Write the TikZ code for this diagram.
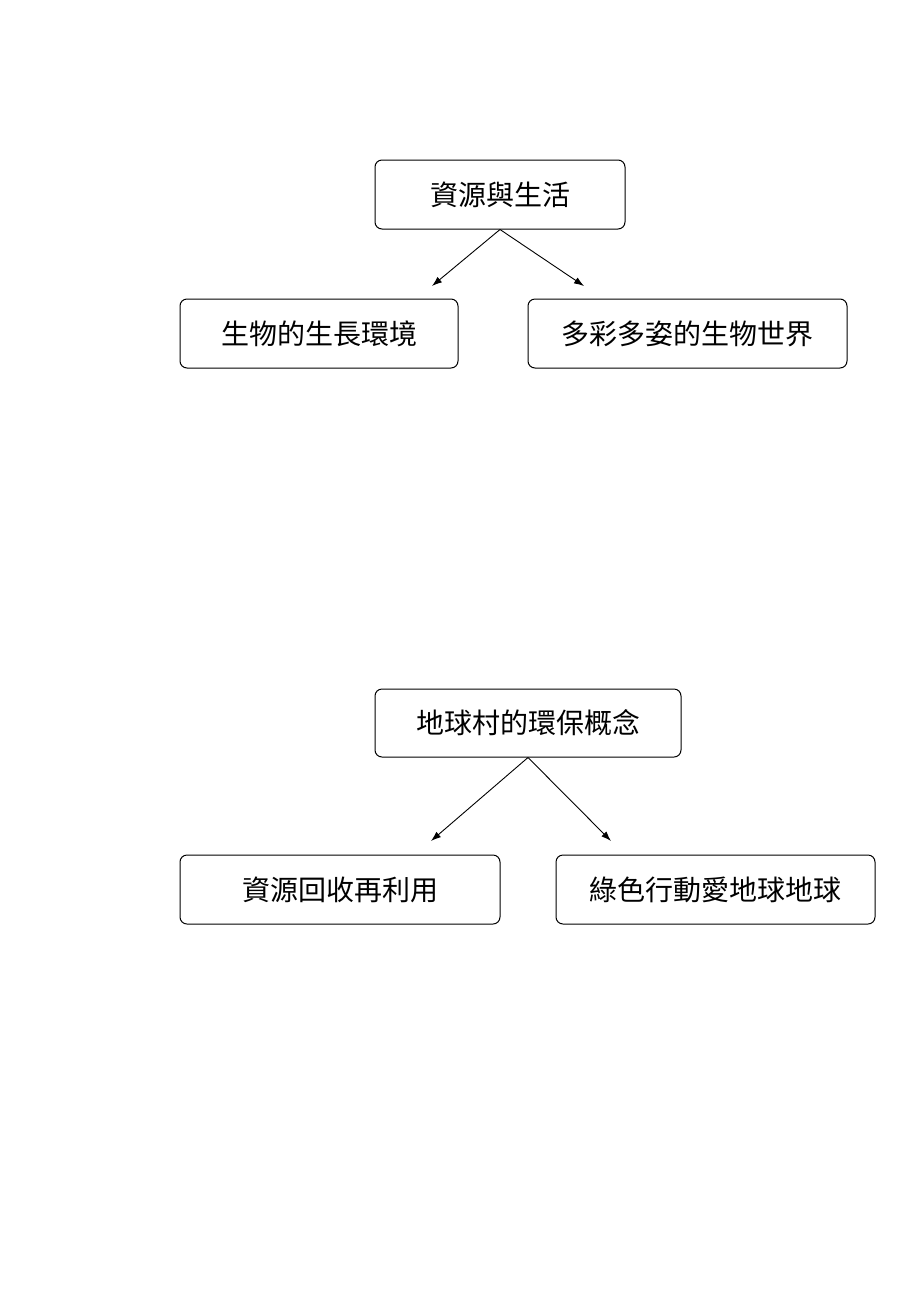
\documentclass[tikz,border=0pt]{standalone}
\usepackage{fontspec}
\newfontfamily\cjk{Noto Sans CJK TC}
\usetikzlibrary{arrows.meta}
\begin{document}
\begin{tikzpicture}[x=1pt,y=-1pt,
  box/.style={draw, line width=1pt, rounded corners=7pt, inner sep=0pt, font=\cjk\fontsize{28}{32}\selectfont},
  arr/.style={line width=0.9pt, -{Latex[length=10pt,width=7pt]}}]
\useasboundingbox (0,0) rectangle (920,1302);
% top group
\node[box, minimum width=250pt, minimum height=69pt] (a) at (500,194.5) {資源與生活};
\node[box, minimum width=278pt, minimum height=69pt] (b) at (319,333.5) {生物的生長環境};
\node[box, minimum width=319pt, minimum height=69pt] (c) at (687.5,333.5) {多彩多姿的生物世界};
\coordinate (ab) at (432,286);
\coordinate (ac) at (584,286);
\draw[arr] (a.south) -- (ab);
\draw[arr] (a.south) -- (ac);
% bottom group
\node[box, minimum width=306pt, minimum height=68pt] (d) at (528,723) {地球村的環保概念};
\node[box, minimum width=320pt, minimum height=69pt] (e) at (340,889.5) {資源回收再利用};
\node[box, minimum width=319pt, minimum height=69pt] (f) at (715.5,889.5) {綠色行動愛地球地球};
\coordinate (de) at (431,841);
\coordinate (df) at (611,841);
\draw[arr] (d.south) -- (de);
\draw[arr] (d.south) -- (df);
\end{tikzpicture}
\end{document}
